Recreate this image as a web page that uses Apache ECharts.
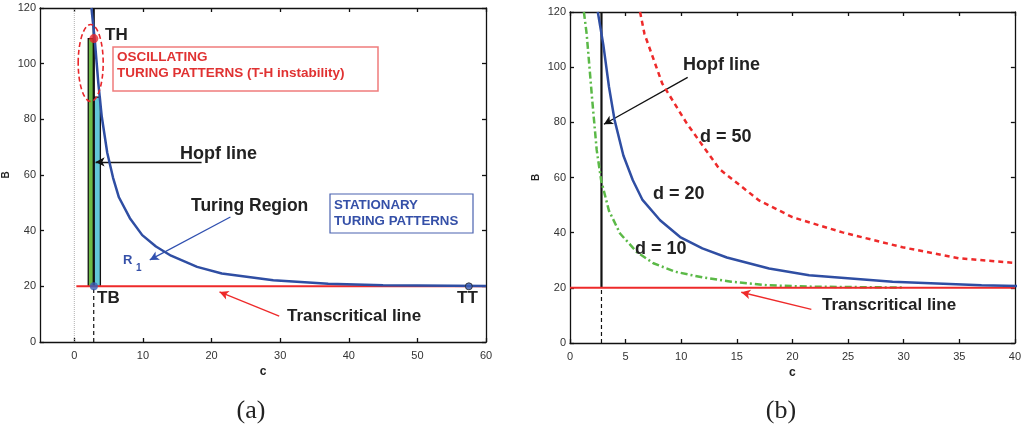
<!DOCTYPE html>
<html>
<head>
<meta charset="utf-8">
<script src="https://cdn.jsdelivr.net/npm/echarts@6/dist/echarts.min.js"></script>
<style>
html,body{margin:0;padding:0;background:#fff;}
#chart{width:1024px;height:430px;}
</style>
</head>
<body>
<div id="chart"></div>
<script>
// turing boundary d=20 (same curve in both panels)
var turC = [2.5, 3.0, 3.5, 4.0, 4.8, 5.65, 6.5, 8.1, 9.9, 11.9, 14.1, 17.9, 21.5, 29, 37, 45, 60];
var turB = [120, 108, 93, 81, 68, 59, 52, 44.5, 38.4, 34.3, 31.0, 27.0, 24.6, 22.2, 20.9, 20.4, 20.1];
// d = 10
var d10C = [1.25, 1.5, 2.0, 2.4, 2.8, 3.5, 4.5, 6, 7.5, 9.5, 11.9, 14.5, 17.9, 22, 30];
var d10B = [120, 112, 88, 70, 59, 48, 39.7, 33, 28.9, 25.8, 23.8, 22.2, 20.9, 20.4, 20.1];
// d = 50
var d50C = [6.3, 6.7, 8.3, 10.5, 13.45, 17, 20, 24.5, 29.9, 35, 40];
var d50B = [120, 112, 94, 79.6, 63, 51.7, 45.6, 40.1, 34.7, 30.7, 29];

var hopfC = 2.83;
var transB = 20;
var thPoint = [2.85, 109];
var tbPoint = [2.85, 20];
var ttPoint = [57.5, 20];
var greenBar = [2.03, 20, 2.85, 109];
var cyanBar = [2.85, 20, 3.8, 88];

var xTicksA = [0, 10, 20, 30, 40, 50, 60];
var yTicks = [0, 20, 40, 60, 80, 100, 120];

function zip(xs, ys){
    var out = [];
    for (var i = 0; i < xs.length; i++) out.push([xs[i], ys[i]]);
    return out;
}

var labelStyle = {color:'#333', fontSize:11, fontFamily:'Liberation Sans, Arial'};
var lineBlk = {color:'#111', width:1.3};
var blue = '#2f4ea3', red = '#ee2a2a', green = '#5bb947';

function xAx(grid, pos, min, max, ticks, showLabel){
    var o = {
        type:'value', gridIndex:grid, position:pos, min:min, max:max,
        axisLine:{show:true, onZero:false, lineStyle:lineBlk},
        axisTick:{show:true, inside:true, length:4, lineStyle:lineBlk},
        axisLabel:Object.assign({show:showLabel, margin:8}, labelStyle),
        splitLine:{show:false}
    };
    if (ticks) { o.axisTick.customValues = ticks; o.axisLabel.customValues = ticks; }
    else { o.interval = 5; }
    return o;
}
function yAx(grid, pos, showLabel){
    return {
        type:'value', gridIndex:grid, position:pos, min:0, max:120, interval:20,
        axisLine:{show:true, onZero:false, lineStyle:lineBlk},
        axisTick:{show:true, inside:true, length:4, lineStyle:lineBlk},
        axisLabel:Object.assign({show:showLabel, margin:4}, labelStyle),
        splitLine:{show:false}
    };
}

var xa0 = xAx(0, 'bottom', -5, 60, xTicksA, true);
xa0.name = 'c'; xa0.nameLocation = 'middle'; xa0.nameGap = 20;
xa0.nameTextStyle = {fontWeight:'bold', fontSize:12, color:'#222', fontFamily:'Liberation Sans'};
var xa1 = xAx(1, 'bottom', 0, 40, null, true);
xa1.name = 'c'; xa1.nameLocation = 'middle'; xa1.nameGap = 20;
xa1.nameTextStyle = xa0.nameTextStyle;
var ya0 = yAx(0, 'left', true);
ya0.name = 'B'; ya0.nameLocation = 'middle'; ya0.nameGap = 29; ya0.nameRotate = 90;
ya0.nameTextStyle = {fontWeight:'bold', fontSize:10, color:'#222', fontFamily:'Liberation Sans'};
var ya1 = yAx(1, 'left', true);
ya1.name = 'B'; ya1.nameLocation = 'middle'; ya1.nameGap = 29; ya1.nameRotate = 90;
ya1.nameTextStyle = ya0.nameTextStyle;

function arrow(grid, from, to, color){
    return {
        type:'line', xAxisIndex:grid, yAxisIndex:grid, data:[], z:6,
        markLine:{
            silent:true, symbol:['none','arrow'], symbolSize:[7,9],
            label:{show:false},
            lineStyle:{color:color, width:1.3, type:'solid'},
            data:[[{coord:from}, {coord:to}]]
        }
    };
}

function txt(x, y, s, size, color, extra){
    return {
        type:'text', z:20,
        style:Object.assign({
            text:s, x:x, y:y, fill:color||'#222',
            fontSize:size, fontWeight:'bold', fontFamily:'Liberation Sans, Arial',
            verticalAlign:'middle', align:'left'
        }, extra||{})
    };
}

var option = {
    animation:false,
    grid:[
        {left:38, top:8, width:448, height:334},
        {left:570, top:12, width:446, height:331}
    ],
    xAxis:[xa0, xa1, xAx(0,'top',-5,60,xTicksA,false), xAx(1,'top',0,40,null,false)],
    yAxis:[ya0, ya1, yAx(0,'right',false), yAx(1,'right',false)],
    series:[
        // ---- panel (a)
        {type:'line', xAxisIndex:0, yAxisIndex:0, data:[[0,0],[0,120]], symbol:'none',
         lineStyle:{color:'#b0b0b0', width:1, type:'dotted'}, z:1},
        {type:'line', xAxisIndex:0, yAxisIndex:0, data:[], z:2,
         markArea:{silent:true, data:[
            [{coord:[greenBar[0],greenBar[1]], itemStyle:{color:'#6cbb45', borderColor:'#111', borderWidth:1.3}},
             {coord:[greenBar[2],greenBar[3]]}],
            [{coord:[cyanBar[0],cyanBar[1]], itemStyle:{color:'#62c6d8', borderColor:'#111', borderWidth:1.3}},
             {coord:[cyanBar[2],cyanBar[3]]}]
         ]}},
        {type:'line', xAxisIndex:0, yAxisIndex:0, data:[[hopfC,transB],[hopfC,120]], symbol:'none',
         lineStyle:{color:'#111', width:2.2}, z:3},
        {type:'line', xAxisIndex:0, yAxisIndex:0, data:[[hopfC,0],[hopfC,transB]], symbol:'none',
         lineStyle:{color:'#111', width:1.2, type:[4,3]}, z:3},
        {type:'line', xAxisIndex:0, yAxisIndex:0, data:[[0.3,transB],[60,transB]], symbol:'none',
         lineStyle:{color:red, width:2}, z:4},
        {type:'line', xAxisIndex:0, yAxisIndex:0, data:zip(turC, turB), symbol:'none',
         lineStyle:{color:blue, width:2.5}, z:5},
        {type:'scatter', xAxisIndex:0, yAxisIndex:0, data:[thPoint], symbolSize:9,
         itemStyle:{color:'#e8262a'}, z:7},
        {type:'scatter', xAxisIndex:0, yAxisIndex:0, data:[tbPoint], symbolSize:8,
         itemStyle:{color:'#3a5fb8'}, z:7},
        {type:'scatter', xAxisIndex:0, yAxisIndex:0, data:[ttPoint], symbolSize:7,
         itemStyle:{color:'#3a5fb8', borderColor:'#222', borderWidth:1}, z:7},
        arrow(0, [18.55, 64.7], [3.1, 64.7], '#111'),
        arrow(0, [22.75, 44.9], [11.0, 29.5], '#3050b0'),
        arrow(0, [29.86, 9.3], [21.16, 18.0], red),
        // ---- panel (b)
        {type:'line', xAxisIndex:1, yAxisIndex:1, data:[[hopfC,transB],[hopfC,120]], symbol:'none',
         lineStyle:{color:'#111', width:2.2}, z:3},
        {type:'line', xAxisIndex:1, yAxisIndex:1, data:[[hopfC,0],[hopfC,transB]], symbol:'none',
         lineStyle:{color:'#111', width:1.2, type:[4,3]}, z:3},
        {type:'line', xAxisIndex:1, yAxisIndex:1, data:zip(d10C, d10B), symbol:'none',
         lineStyle:{color:green, width:2.5, type:[7,3,2,3]}, z:4},
        {type:'line', xAxisIndex:1, yAxisIndex:1, data:[[0,transB],[40,transB]], symbol:'none',
         lineStyle:{color:red, width:2}, z:5},
        {type:'line', xAxisIndex:1, yAxisIndex:1, data:zip(turC, turB), symbol:'none',
         lineStyle:{color:blue, width:2.5}, z:5},
        {type:'line', xAxisIndex:1, yAxisIndex:1, data:zip(d50C, d50B), symbol:'none',
         lineStyle:{color:red, width:2.5, type:[5,4]}, z:5},
        arrow(1, [10.58, 96.3], [3.05, 79.3], '#111'),
        arrow(1, [21.7, 12.2], [15.4, 18.4], red)
    ],
    graphic:[
        {type:'ellipse', z:8, shape:{cx:90.7, cy:63, rx:12.5, ry:38.5},
         style:{fill:'none', stroke:'#e8262a', lineWidth:1.6, lineDash:[5,3]}},
        {type:'rect', z:9, shape:{x:113, y:47, width:265, height:44},
         style:{fill:'#fff', stroke:'#f07c7c', lineWidth:1.5}},
        txt(117, 57.5, 'OSCILLATING', 13.5, '#e03232'),
        txt(117, 73, 'TURING PATTERNS (T-H instability)', 13.5, '#e03232'),
        {type:'rect', z:9, shape:{x:330, y:194, width:143, height:39},
         style:{fill:'#fff', stroke:'#4a62b0', lineWidth:1.2}},
        txt(334, 205, 'STATIONARY', 13.3, '#3550a8'),
        txt(334, 221, 'TURING PATTERNS', 13.3, '#3550a8'),
        txt(105, 35, 'TH', 17, '#222'),
        txt(97, 298, 'TB', 17, '#222'),
        txt(457, 298, 'TT', 17, '#222'),
        txt(180, 154, 'Hopf line', 18, '#222'),
        txt(191, 206, 'Turing Region', 17.5, '#222'),
        txt(287, 316, 'Transcritical line', 17, '#222'),
        txt(123, 260, 'R', 13, '#3550a8'),
        txt(136, 268.5, '1', 10, '#3550a8'),
        txt(683, 65, 'Hopf line', 18, '#222'),
        txt(700, 137, 'd = 50', 18, '#222'),
        txt(653, 194, 'd = 20', 18, '#222'),
        txt(635, 249, 'd = 10', 18, '#222'),
        txt(822, 305.5, 'Transcritical line', 17, '#222'),
        txt(251, 411, '(a)', 26, '#222', {fontWeight:'normal', fontFamily:'Liberation Serif', align:'center'}),
        txt(781, 411, '(b)', 26, '#222', {fontWeight:'normal', fontFamily:'Liberation Serif', align:'center'})
    ]
};

var chart = echarts.init(document.getElementById('chart'));
chart.setOption(option);
</script>
</body>
</html>
